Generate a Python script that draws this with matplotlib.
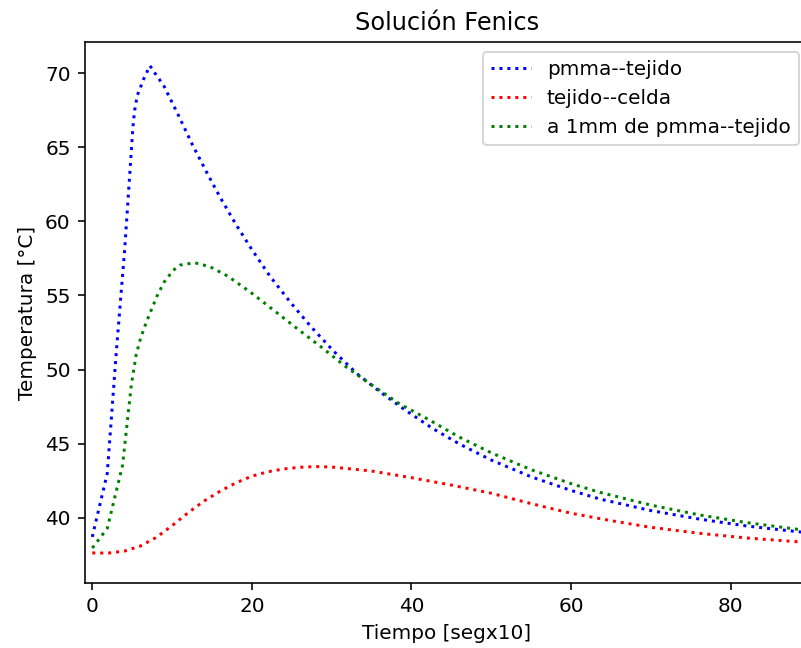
import matplotlib
matplotlib.use("Agg")
import matplotlib.pyplot as plt

# pmma--tejido (blue)
x_blue = [0, 1.88, 3.0, 4.06, 5.1, 5.31, 5.64, 6.48, 7.23, 7.86, 8.98, 10.78, 12.53, 14.4,
          16, 18, 20, 22.27, 24.77, 27.4, 30.2, 33.13, 36.05, 39.4, 42.73, 46, 50, 55, 60,
          63.62, 70, 76.15, 82, 88.47, 91]
y_blue = [38.7, 43.0, 51.1, 58.1, 66.4, 67.5, 68.5, 69.66, 70.51, 70.0, 69.14, 67.18, 65.2, 63.25,
          61.65, 59.8, 58.1, 56.3, 54.58, 52.9, 51.27, 49.74, 48.5, 47.2, 46.0, 44.98, 43.89, 42.76, 41.84,
          41.26, 40.48, 39.9, 39.44, 39.05, 38.93]

# tejido--celda (red)
x_red = [0, 2, 4, 6, 8, 10, 12, 14, 16, 18, 20, 22, 24, 26, 28, 30, 35, 40, 45, 50, 55, 60,
         65, 70, 76, 82, 88, 91]
y_red = [37.62, 37.61, 37.74, 38.08, 38.66, 39.46, 40.33, 41.12, 41.78, 42.35, 42.8, 43.1, 43.29,
         43.4, 43.45, 43.42, 43.15, 42.7, 42.2, 41.65, 40.95, 40.3, 39.8, 39.35, 38.95, 38.63, 38.39, 38.29]

# a 1mm de pmma--tejido (green)
x_green = [0, 1.88, 3.8, 4.89, 5.5, 6.0, 6.5, 7.0, 7.5, 8.15, 9.0, 10.15, 11, 12.83, 14.75, 17,
           20, 22.27, 25.52, 28.74, 31.88, 35.21, 38.56, 42.03, 46, 50, 55, 60, 63.62, 70,
           76.15, 82, 88.47, 91]
y_green = [37.95, 39.28, 43.55, 48.95, 51.0, 52.0, 52.8, 53.5, 54.15, 55.0, 55.9, 56.7, 57.05, 57.21,
           56.94, 56.3, 55.15, 54.2, 52.83, 51.5, 50.15, 48.89, 47.67, 46.66, 45.44, 44.38, 43.24,
           42.3, 41.71, 40.85, 40.18, 39.67, 39.21, 39.07]

labels = ["pmma--tejido", "tejido--celda", "a 1mm de pmma--tejido"]

fig = plt.figure(figsize=(801 / 144, 648 / 144), dpi=144)
ax = fig.add_axes([84.7 / 801, (648 - 583.3) / 648, (808.7 - 84.7) / 801, (583.3 - 41.7) / 648])

ax.plot(x_blue, y_blue, ":", color="b", label=labels[0])
ax.plot(x_red, y_red, ":", color="r", label=labels[1])
ax.plot(x_green, y_green, ":", color="g", label=labels[2])

ax.set_xlim(-0.95, 89.8)
ax.set_ylim(35.57, 72.13)
ax.set_xticks([0, 20, 40, 60, 80])
ax.set_title("Solución Fenics")
ax.set_xlabel("Tiempo [segx10]")
ax.set_ylabel("Temperatura [°C]")
ax.legend(loc="upper right")

fig.savefig("out.png", dpi=144)
